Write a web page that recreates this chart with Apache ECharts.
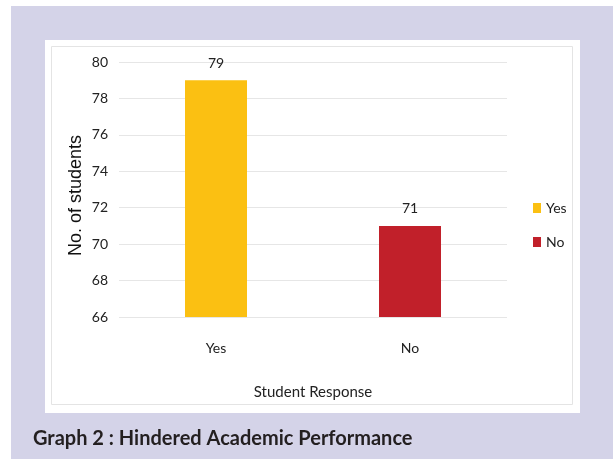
<!DOCTYPE html>
<html>
<head>
<meta charset="utf-8">
<script src="https://cdn.jsdelivr.net/npm/echarts@6/dist/echarts.min.js"></script>
<style>
  html, body { margin: 0; padding: 0; background: #ffffff; }
  #chart { width: 613px; height: 459px; }
</style>
</head>
<body>
<div id="chart"></div>
<script>
// 数据
const categories = ['Yes', 'No'];
const yesValues = [79, '-'];
const noValues = ['-', 71];
const yTicks = { min: 66, max: 80, step: 2 };
const titleText = 'Graph 2 : Hindered Academic Performance';

const chart = echarts.init(document.getElementById('chart'));
const labelFont = 'Lato, "Noto Sans", sans-serif';

const option = {
    animation: false,
    graphic: [
        // 背景紫色框
        { type: 'rect', z: -10, shape: { x: 11, y: 6, width: 602, height: 453 }, style: { fill: '#d4d3e8' } },
        // 白色面板
        { type: 'rect', z: -9, shape: { x: 45, y: 40, width: 535, height: 373 }, style: { fill: '#ffffff' } },
        { type: 'rect', z: -8, shape: { x: 51.5, y: 46.5, width: 521, height: 358 }, style: { fill: 'none', stroke: '#e4e4e4', lineWidth: 1 } },
        {
            type: 'text', left: 33, top: 429,
            style: { text: titleText, font: 'bold 20px ' + labelFont, fill: '#231f20' }
        }
    ],
    legend: {
        orient: 'vertical',
        left: 528,
        top: 196,
        itemWidth: 8,
        itemHeight: 10,
        itemGap: 20,
        icon: 'rect',
        textStyle: { fontFamily: labelFont, fontSize: 14, color: '#222' },
        data: ['Yes', 'No']
    },
    grid: { left: 119, right: 106, top: 62, bottom: 142 },
    xAxis: {
        type: 'category',
        data: categories,
        name: 'Student Response',
        nameLocation: 'middle',
        nameGap: 68,
        nameTextStyle: { fontFamily: labelFont, fontSize: 15, color: '#222' },
        axisLine: { show: false },
        axisTick: { show: false },
        axisLabel: { margin: 24, fontFamily: labelFont, fontSize: 14, color: '#222' }
    },
    yAxis: {
        type: 'value',
        min: yTicks.min,
        max: yTicks.max,
        interval: yTicks.step,
        name: 'No. of students',
        nameLocation: 'middle',
        nameRotate: 90,
        nameGap: 34,
        nameMoveOverlap: false,
        nameTextStyle: { fontFamily: 'Liberation Sans', fontSize: 18, color: '#111', padding: [0, 12, 0, 0] },
        axisLine: { show: false },
        axisTick: { show: false },
        axisLabel: { margin: 11, fontFamily: labelFont, fontSize: 14, color: '#222' },
        splitLine: { lineStyle: { color: '#e6e6e6', width: 1 } }
    },
    series: [
        {
            name: 'Yes',
            type: 'bar',
            stack: 'resp',
            barWidth: 62,
            data: yesValues,
            itemStyle: { color: '#fbc012' },
            label: { show: true, position: 'top', distance: 10, fontFamily: labelFont, fontSize: 14, color: '#222' }
        },
        {
            name: 'No',
            type: 'bar',
            stack: 'resp',
            barWidth: 62,
            data: noValues,
            itemStyle: { color: '#c1202a' },
            label: { show: true, position: 'top', distance: 10, fontFamily: labelFont, fontSize: 14, color: '#222' }
        }
    ]
};
chart.setOption(option);
</script>
</body>
</html>
